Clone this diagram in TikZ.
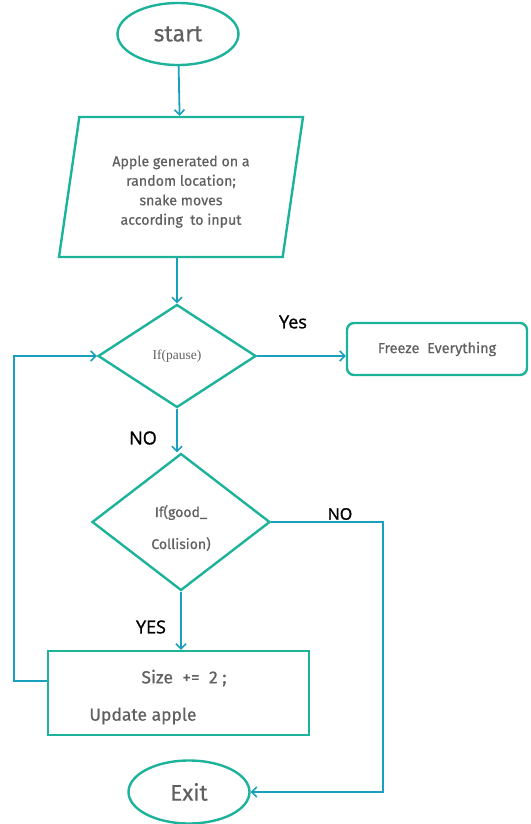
\documentclass[tikz,border=0pt]{standalone}
\usepackage{fontspec}
\setmainfont[FakeBold=0.6]{Fira Sans}
\newfontfamily\serifgray{Liberation Serif}
\newfontfamily\labelfont[FakeBold=1.2]{Open Sans}
\usetikzlibrary{shapes.geometric,arrows.meta}
\definecolor{shapegreen}{HTML}{1DB39B}
\definecolor{arrowblue}{HTML}{1A9FBD}
\definecolor{txtgray}{HTML}{606060}
\begin{document}
\begin{tikzpicture}[x=1pt,y=-1pt,
  box/.style={draw=shapegreen,line width=2.4pt,text=txtgray,inner sep=0pt,align=center},
  oval/.style={box,ellipse},
  arr/.style={draw=arrowblue,line width=1.8pt,-{Straight Barb[length=5pt,width=10pt,line width=1.6pt]}},
  answer/.style={font=\labelfont\fontsize{18}{20}\selectfont,text=black}]

\useasboundingbox (0,0) rectangle (530,824);

\node[oval,minimum width=121pt,minimum height=62pt,font=\fontsize{23}{26}\selectfont] (start) at (178,34) {start};

\node[box,trapezium,trapezium left angle=76,trapezium right angle=104,trapezium stretches body=true,
  minimum width=244pt,minimum height=140pt,font=\fontsize{14.2}{19.5}\selectfont] (apple) at (181,187)
  {\rule{0pt}{20pt}Apple generated on a\\random location;\\snake moves\\according\ \ to input};

\node[box,diamond,minimum width=158pt,minimum height=103pt,font=\serifgray\fontsize{13.5}{15}\selectfont] (pause) at (177,356) {If(pause)};

\node[box,rounded corners=7pt,minimum width=180pt,minimum height=52pt,font=\fontsize{14.5}{16}\selectfont] (freeze) at (437,349) {Freeze\ \ Everything};

\node[box,diamond,minimum width=178pt,minimum height=137pt,font=\fontsize{14}{16}\selectfont] (coll) at (181,522) {\rule{0pt}{24pt}If(good\_\\[16pt]Collision)};

\node[box,minimum width=261pt,minimum height=84pt] (grow) at (178.5,693) {};
\node[text=txtgray,font=\fontsize{17.5}{20}\selectfont] (size) at (184,678) {Size\ \ +=\ \ 2 ;};
\node[text=txtgray,font=\fontsize{17.5}{20}\selectfont] (upd) at (143,716) {Update apple};

\node[oval,minimum width=121pt,minimum height=63pt,font=\fontsize{22.5}{26}\selectfont] (exit) at (189,792) {Exit};

\node[answer] (yes) at (293,322) {Yes};
\node[answer] (no1) at (143,438) {NO};
\node[answer] (yes2) at (151,627) {YES};
\node[answer,font=\labelfont\fontsize{16}{18}\selectfont] (no2) at (340,514) {NO};

\draw[arr] (start) -- (apple);
\draw[arr] (apple.south -| pause.north) -- (pause.north);
\draw[arr] (pause.east) -- (pause.east -| freeze.west);
\draw[arr] (pause.south) -- (pause.south |- coll.north);
\draw[arr] (coll.south) -- (coll.south |- grow.north);
\draw[arr] (coll.east) -- ++(112,0) |- (exit.east);
\draw[arr] ([yshift=12pt]grow.west) -- ++(-33,0) |- (pause.west);

\end{tikzpicture}
\end{document}
